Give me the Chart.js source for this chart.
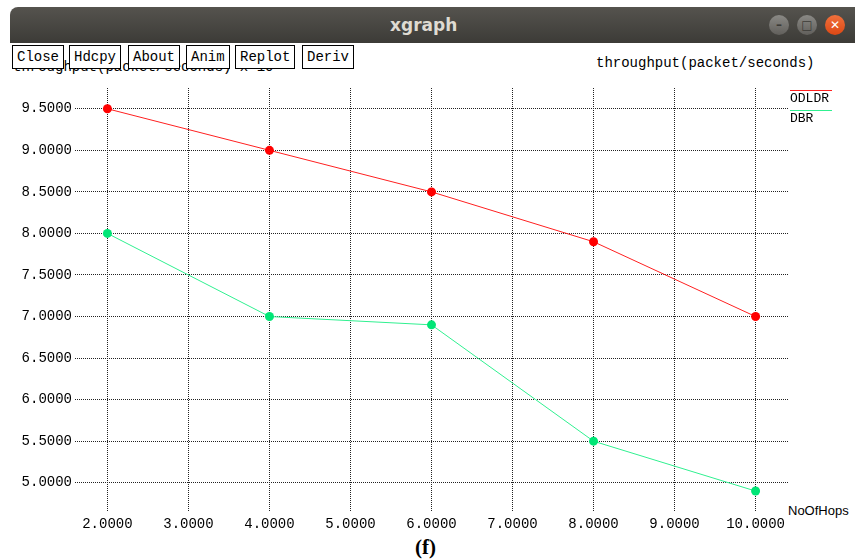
<!DOCTYPE html>
<html>
<head>
<meta charset="utf-8">
<script src="https://cdn.jsdelivr.net/npm/chart.js@4"></script>
<style>
body { margin: 0; width: 855px; height: 560px; background: #fff; position: relative; overflow: hidden; font-family: "Liberation Mono", monospace; }
#bar { position: absolute; left: 10px; top: 7px; width: 860px; height: 36px; border-radius: 8px 8px 0 0;
  background: linear-gradient(#55534e, #3c3b37); }
#bar .t { position: absolute; left: 380px; top: 8px; color: #dfdbd2; font: bold 17px "DejaVu Sans", sans-serif; }
.wb { position: absolute; top: 8px; width: 20px; height: 20px; border-radius: 50%; background: linear-gradient(#8a8985, #615f5b);
  color: #3c3b37; font: bold 12px "DejaVu Sans", sans-serif; text-align: center; line-height: 20px; }
.btn { position: absolute; top: 45px; height: 22px; border: 1px solid #000; background: #fff; font-size: 14px; line-height: 22px; padding: 0 4px; }
.lab { position: absolute; font-size: 14px; white-space: pre; color: #000; }
#cv { position: absolute; left: 0; top: 0; }
</style>
</head>
<body>
<div id="bar"><span class="t">xgraph</span>
  <div class="wb" style="left:759px">–</div>
  <div class="wb" style="left:787px">□</div>
  <div class="wb" style="left:815px;background:linear-gradient(#f0703c,#dd4814);color:#fff">✕</div>
</div>
<div class="lab" style="left:13px;top:60px;line-height:14px">throughput(packet/seconds) x 10</div>
<div class="btn" style="left:12px">Close</div>
<div class="btn" style="left:69px">Hdcpy</div>
<div class="btn" style="left:128px">About</div>
<div class="btn" style="left:186px">Anim</div>
<div class="btn" style="left:235px">Replot</div>
<div class="btn" style="left:302px">Deriv</div>
<div class="lab" style="left:596px;top:55px">throughput(packet/seconds)</div>
<div class="lab" style="left:788px;top:503px;font-family:'Liberation Sans',sans-serif;font-size:13px">NoOfHops</div>
<div style="position:absolute;left:415px;top:535px;font:bold 21px 'Liberation Serif',serif">(f)</div>
<canvas id="cv" width="855" height="560"></canvas>
<script>
const hops = [2, 4, 6, 8, 10];
const odldr = [9.5, 9.0, 8.5, 7.9, 7.0];
const dbr = [8.0, 7.0, 6.9, 5.5, 4.9];
const xTicks = [2, 3, 4, 5, 6, 7, 8, 9, 10];
const yTicks = [5.0, 5.5, 6.0, 6.5, 7.0, 7.5, 8.0, 8.5, 9.0, 9.5];

function pts(ys) {
    return hops.map(function (h, i) { return { x: h, y: ys[i] }; });
}

// legend like xgraph: colored line above each name
const xgLegend = {
    id: 'xgLegend',
    afterDraw: function (chart) {
        const ctx = chart.ctx;
        ctx.save();
        ctx.font = '13px "Liberation Mono", monospace';
        ctx.fillStyle = '#000';
        ctx.textBaseline = 'top';
        chart.data.datasets.forEach(function (ds, i) {
            const y = 90 + i * 20;
            ctx.strokeStyle = ds.borderColor;
            ctx.lineWidth = 1;
            ctx.beginPath();
            ctx.moveTo(790, y + 0.5);
            ctx.lineTo(832, y + 0.5);
            ctx.stroke();
            ctx.fillText(ds.label, 790, y + 2);
        });
        ctx.restore();
    }
};

const grid = { color: '#222', drawTicks: false, lineWidth: 1 };
const border = { display: false, dash: [1, 1] };

new Chart(document.getElementById('cv'), {
    type: 'line',
    data: {
        datasets: [{
            label: 'ODLDR',
            data: pts(odldr),
            borderColor: '#ff2020',
            backgroundColor: '#ff0000',
            borderWidth: 1,
            pointRadius: 4.5,
            pointBorderWidth: 0
        }, {
            label: 'DBR',
            data: pts(dbr),
            borderColor: '#30f090',
            backgroundColor: '#00e676',
            borderWidth: 1,
            pointRadius: 4.5,
            pointBorderWidth: 0
        }]
    },
    options: {
        responsive: false,
        animation: false,
        layout: { padding: { left: 0, top: 88, right: 67, bottom: 19 } },
        plugins: { legend: { display: false }, tooltip: { enabled: false } },
        scales: {
            x: {
                type: 'linear', min: 1.6, max: 10.4,
                afterBuildTicks: function (s) { s.ticks = xTicks.map(function (v) { return { value: v }; }); },
                afterFit: function (s) { s.height = 30; },
                border: border,
                grid: grid,
                ticks: {
                    padding: 5, color: '#000', maxRotation: 0, autoSkip: false,
                    font: { family: 'Liberation Mono', size: 14 },
                    callback: function (v) { return v.toFixed(4); }
                }
            },
            y: {
                min: 4.66, max: 9.75,
                afterBuildTicks: function (s) { s.ticks = yTicks.map(function (v) { return { value: v }; }); },
                afterFit: function (s) { s.width = 75; },
                border: border,
                grid: grid,
                ticks: {
                    padding: 3, color: '#000',
                    font: { family: 'Liberation Mono', size: 14 },
                    callback: function (v) { return v.toFixed(4); }
                }
            }
        }
    },
    plugins: [xgLegend]
});
</script>
</body>
</html>
